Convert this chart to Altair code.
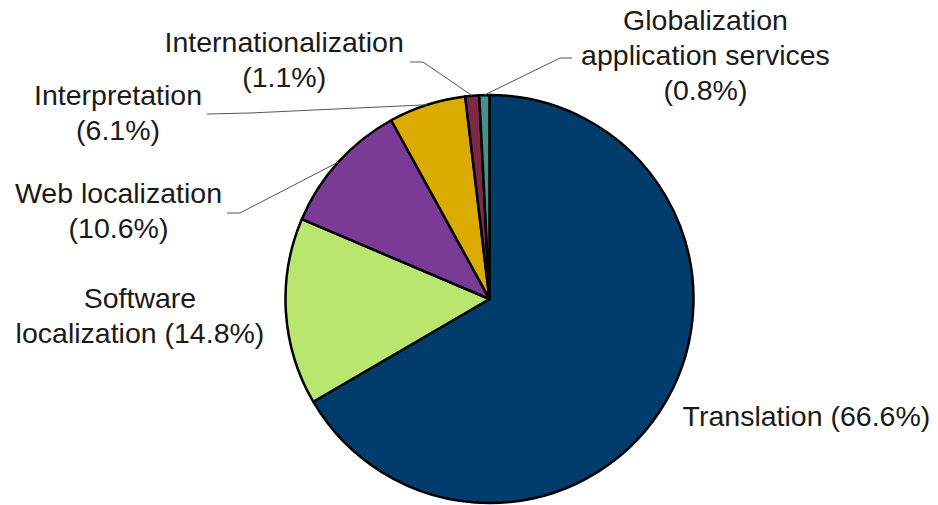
import math
import altair as alt
import pandas as pd

# ---- data ----
categories = [
    "Translation",
    "Software localization",
    "Web localization",
    "Interpretation",
    "Internationalization",
    "Globalization application services",
]
shares = [66.6, 14.8, 10.6, 6.1, 1.1, 0.8]
label_texts = [
    "Translation (66.6%)",
    "Software\nlocalization (14.8%)",
    "Web localization\n(10.6%)",
    "Interpretation\n(6.1%)",
    "Internationalization\n(1.1%)",
    "Globalization\napplication services\n(0.8%)",
]
colors = ["#003c6c", "#b8e66e", "#7a3b96", "#dbab00", "#7b2947", "#4a8f8c"]

# ---- layout (styling only) ----
W, H = 938, 505
CX, CY, R = 489.5, 299, 204
FONT = "Liberation Sans"
FS = 28.5
LH = 35
# per-label: radius, dx, dy, align
label_layout = {
    "Translation": (225, -2, 15, "left"),
    "Software localization": (240, -110, -6, "center"),
    "Web localization": (240, -193, 65, "center"),
    "Interpretation": (240, -298, 34, "center"),
    "Internationalization": (240, -185, -8, "center"),
    "Globalization application services": (240, 222, -29, "center"),
}
# leader lines: elbow then end (pixel layout), start is the slice edge
leader_layout = {
    "Web localization": [(240, 213), (227, 213)],
    "Interpretation": [(250, 113), (207, 114)],
    "Internationalization": [(423, 62), (410, 62)],
    "Globalization application services": [(560, 58), (572, 58)],
}

df = pd.DataFrame({
    "category": categories,
    "share": shares,
    "label": label_texts,
    "order": list(range(len(categories))),
})

# leader line points derived from slice mid-angles
total = sum(shares)
rows = []
cum = 0.0
for cat, v in zip(categories, shares):
    mid = (cum + v / 2) / total
    cum += v
    if cat in leader_layout:
        ang = mid * 2 * math.pi
        sx = CX + R * math.sin(ang)
        sy = CY - R * math.cos(ang)
        pts = [(sx, sy)] + leader_layout[cat]
        for i, (px, py) in enumerate(pts):
            rows.append({"category": cat, "i": i, "px": px, "py": py})
leaders = pd.DataFrame(rows)

color_scale = alt.Scale(domain=categories, range=colors)

pie = alt.Chart(df).mark_arc(
    outerRadius=R, stroke="#000000", strokeWidth=2.5, strokeJoin="round"
).encode(
    theta=alt.Theta("share:Q", stack=True),
    color=alt.Color("category:N", scale=color_scale, legend=None),
    order=alt.Order("order:Q"),
    x=alt.value(CX),
    y=alt.value(CY),
)

lines = alt.Chart(leaders).mark_line(color="#555555", strokeWidth=1).encode(
    x=alt.X("px:Q", scale=alt.Scale(domain=[0, W], range=[0, W]), axis=None),
    y=alt.Y("py:Q", scale=alt.Scale(domain=[0, H], range=[0, H]), axis=None),
    detail="category:N",
    order="i:Q",
)

label_layers = []
for cat in categories:
    r, dx, dy, align = label_layout[cat]
    t = alt.Chart(df).transform_joinaggregate(
        tot="sum(share)"
    ).transform_window(
        cum="sum(share)", sort=[alt.SortField("order")], frame=[None, 0]
    ).transform_calculate(
        mid="(datum.cum - datum.share / 2) / datum.tot"
    ).transform_filter(
        alt.datum.category == cat
    ).mark_text(
        radius=r, dx=dx, dy=dy, align=align, baseline="alphabetic",
        font=FONT, fontSize=FS, lineBreak="\n", lineHeight=LH, color="#1a1a1a",
    ).encode(
        theta=alt.Theta("mid:Q", stack=False, scale=alt.Scale(domain=[0, 1])),
        text="label:N",
        x=alt.value(CX),
        y=alt.value(CY),
    )
    label_layers.append(t)

chart = alt.layer(pie, lines, *label_layers).resolve_scale(
    theta="independent"
).properties(
    width=W, height=H, padding=0, autosize=alt.AutoSizeParams(type="none"),
    background="white",
).configure_view(stroke=None)

chart.save("out.html", embed_options={"renderer": "svg", "actions": False})
